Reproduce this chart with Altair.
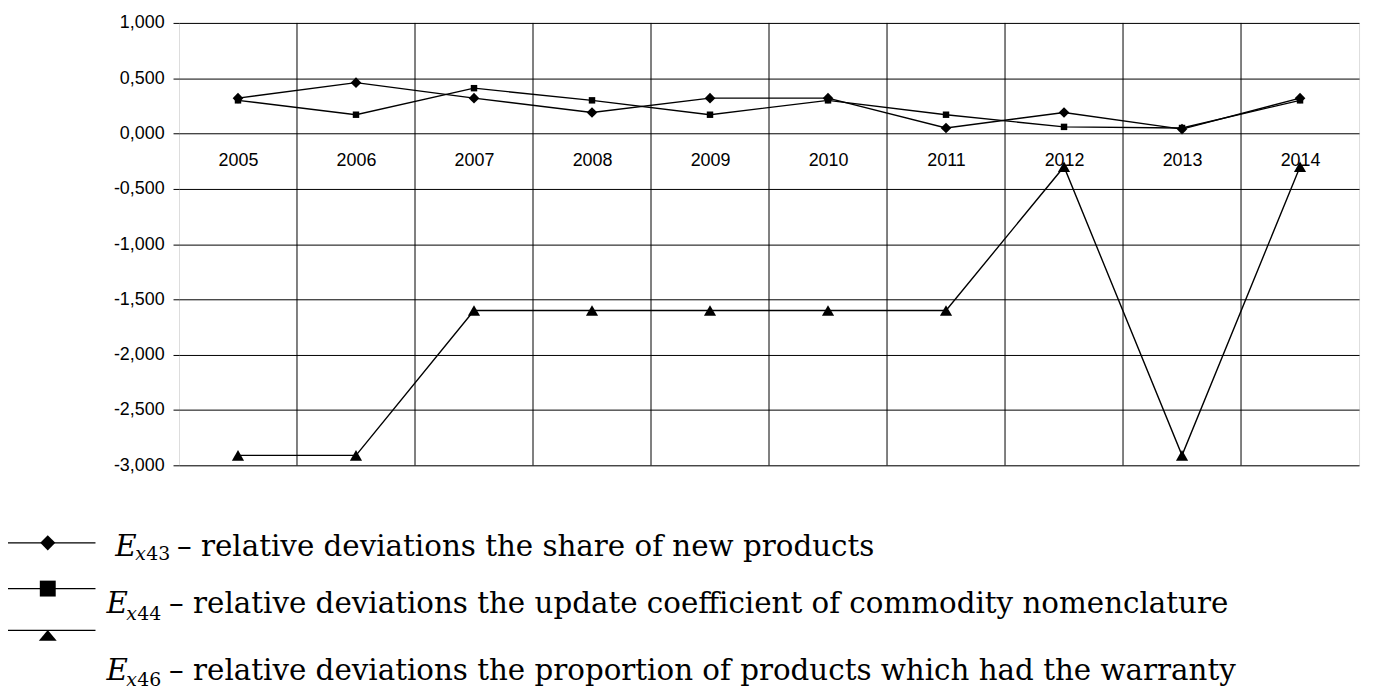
import altair as alt
import pandas as pd

# ---------------- data ----------------
years = [2005, 2006, 2007, 2008, 2009, 2010, 2011, 2012, 2013, 2014]
e43 = [0.32, 0.46, 0.32, 0.19, 0.32, 0.32, 0.05, 0.19, 0.04, 0.32]
e44 = [0.30, 0.17, 0.41, 0.30, 0.17, 0.30, 0.17, 0.06, 0.05, 0.30]
e46 = [-2.91, -2.91, -1.60, -1.60, -1.60, -1.60, -1.60, -0.30, -2.91, -0.30]

series_ids = ["x43", "x44", "x46"]
series_digits = ["43", "44", "46"]
series_shapes = ["diamond", "square", "triangle-up"]
series_sizes = [115, 42, 150]
series_texts = [
    "– relative deviations the share of new products",
    "– relative deviations the update coefficient of commodity nomenclature",
    "– relative deviations the proportion of products which had the warranty",
]
y_ticks = [-3.0, -2.5, -2.0, -1.5, -1.0, -0.5, 0.0, 0.5, 1.0]

# ---------------- layout ----------------
W, H = 1187, 445
Y_MIN, Y_MAX = -3, 1
zero_offset = -H * (0 - Y_MIN) / (Y_MAX - Y_MIN)

rows = []
for sid, vals in zip(series_ids, [e43, e44, e46]):
    for yr, v in zip(years, vals):
        rows.append({"year": yr, "value": v, "series": sid})
df = pd.DataFrame(rows)
bounds = pd.DataFrame({"b": [y + 0.5 for y in years[:-1]]})

x_scale = alt.Scale(domain=[years[0] - 0.5, years[-1] + 0.5], nice=False, zero=False)
y_scale = alt.Scale(domain=[Y_MIN, Y_MAX], nice=False, zero=False)

x_axis = alt.Axis(values=years, format="d", orient="bottom", offset=zero_offset,
                  domain=False, ticks=False, grid=False, labelPadding=18,
                  labelFontSize=18, labelFont="Liberation Sans", labelColor="black",
                  title=None, labelFlush=False)
y_axis = alt.Axis(values=y_ticks,
                  labelExpr="(datum.value < 0 ? '-' : '') + replace(format(abs(datum.value), '.3f'), '.', ',')",
                  grid=True, gridColor="black", gridWidth=1, gridOpacity=1,
                  ticks=True, tickColor="black", tickSize=6, tickWidth=1,
                  labelPadding=9, labelFontSize=18, labelFont="Liberation Sans",
                  labelColor="black", domain=False, title=None)

vgrid = alt.Chart(bounds).mark_rule(color="black", strokeWidth=1).encode(
    x=alt.X("b:Q", scale=x_scale, axis=x_axis)
)

lines = alt.Chart(df).mark_line(color="black", strokeWidth=1.4).encode(
    x=alt.X("year:Q", scale=x_scale, axis=x_axis),
    y=alt.Y("value:Q", scale=y_scale, axis=y_axis),
    detail="series:N",
)

point_layers = []
for sid, shp, sz in zip(series_ids, series_shapes, series_sizes):
    point_layers.append(
        alt.Chart(df).transform_filter(alt.datum.series == sid).mark_point(
            filled=True, color="black", opacity=1, shape=shp, size=sz).encode(
            x=alt.X("year:Q", scale=x_scale, axis=x_axis),
            y=alt.Y("value:Q", scale=y_scale, axis=y_axis),
        )
    )

# ---------------- custom legend (pixel layout relative to plot origin) ----------------
leg_line_x = (-172, -84)
leg_mark_x = -132
leg_line_y = [523, 569, 611]
leg_mark_y = [523, 569, 616]
leg_mark_shapes = ["diamond", "square", "M0,-0.6L1,0.6L-1,0.6Z"]
leg_mark_sizes = [230, 256, 324]
e_x = [-64, -73, -73]
e_base = [536, 594, 661]
subx_x = [-44, -53, -53]
dig_x = [-33, -42, -42]
sub_base = [540, 601, 667]
txt_x = [-2, -10, -10]
LEG_FONT = "DejaVu Serif"
MAIN_FS, SUB_FS = 29.5, 19

legend_layers = []
one = pd.DataFrame({"k": [0]})
for i in range(3):
    legend_layers.append(
        alt.Chart(one).mark_rule(color="black", strokeWidth=1.3).encode(
            x=alt.value(leg_line_x[0]), x2=alt.value(leg_line_x[1]), y=alt.value(leg_line_y[i]))
    )
    legend_layers.append(
        alt.Chart(one).mark_point(filled=True, color="black", opacity=1,
                                  shape=leg_mark_shapes[i], size=leg_mark_sizes[i]).encode(
            x=alt.value(leg_mark_x), y=alt.value(leg_mark_y[i]))
    )
    parts = [
        ("E", e_x[i], e_base[i], MAIN_FS, "italic"),
        ("x", subx_x[i], sub_base[i], SUB_FS, "italic"),
        (series_digits[i], dig_x[i], sub_base[i], SUB_FS, "normal"),
        (series_texts[i], txt_x[i], e_base[i], MAIN_FS, "normal"),
    ]
    for t, px, py, fs, st in parts:
        legend_layers.append(
            alt.Chart(pd.DataFrame({"t": [t]})).mark_text(
                align="left", baseline="alphabetic", font=LEG_FONT,
                fontSize=fs, fontStyle=st, color="black").encode(
                x=alt.value(px), y=alt.value(py), text="t:N")
        )

chart = alt.layer(vgrid, lines, *point_layers, *legend_layers).properties(
    width=W, height=H,
    autosize=alt.AutoSizeParams(type="none"),
    padding={"left": 172, "top": 13, "right": 6, "bottom": 224},
).configure_view(stroke="black", strokeWidth=1).configure(background="white")

chart.save("out.html", embed_options={"renderer": "svg", "actions": False})
